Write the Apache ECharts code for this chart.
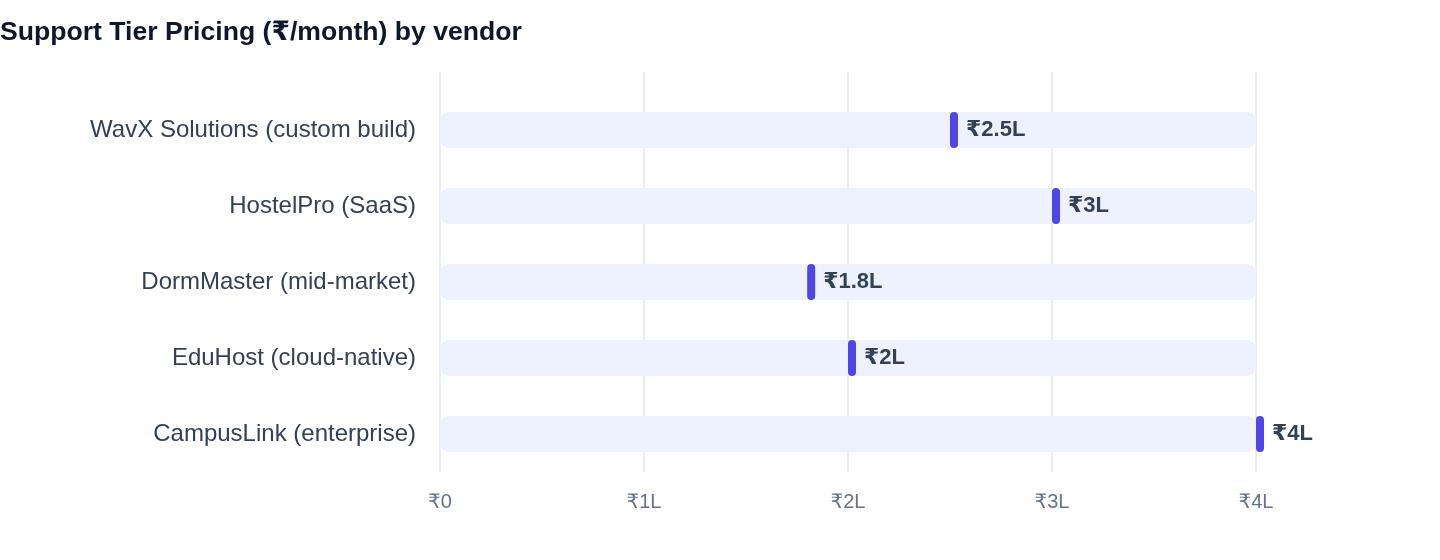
<!DOCTYPE html>
<html><head><meta charset="utf-8">
<script src="https://cdn.jsdelivr.net/npm/echarts@6/dist/echarts.min.js"></script>
<style>html,body{margin:0;padding:0;background:#fff}#c{width:1440px;height:560px}</style>
</head><body><div id="c"></div>
<script>
const vendors = ['WavX Solutions (custom build)','HostelPro (SaaS)','DormMaster (mid-market)','EduHost (cloud-native)','CampusLink (enterprise)'];
const prices = [250000, 300000, 180000, 200000, 400000];
const trackMax = [400000, 400000, 400000, 400000, 400000];

const FONT = '"Liberation Sans", Helvetica, Arial, "DejaVu Sans", sans-serif';
function fmt(v){ return v === 0 ? '₹0' : '₹' + (v/100000) + 'L'; }

const chart = echarts.init(document.getElementById('c'));
chart.setOption({
  animation:false,
  textStyle:{fontFamily:FONT},
  title:{text:'Support Tier Pricing (₹/month) by vendor', left:0, top:19, padding:0,
    textStyle:{fontSize:26.6, fontWeight:'bold', color:'#0f172a', fontFamily:FONT}},
  grid:[
    {left:440, right:184, top:72, bottom:88},
    {left:440, right:184, top:92, bottom:88}
  ],
  xAxis:[
    {gridIndex:0, type:'value', min:0, max:400000, interval:100000,
     axisLine:{show:false}, axisTick:{show:false},
     splitLine:{show:true, lineStyle:{color:'#e2e8f0', width:1.5}},
     axisLabel:{formatter:fmt, color:'#64748b', fontSize:20, margin:20, fontFamily:FONT}},
    {gridIndex:1, type:'value', min:0, max:400000, show:false, splitLine:{show:false}}
  ],
  yAxis:[
    {gridIndex:0, type:'category', data:vendors, show:false},
    {gridIndex:1, type:'category', data:vendors, inverse:true,
     axisLine:{show:false}, axisTick:{show:false},
     axisLabel:{color:'#334155', fontSize:24, margin:24, fontFamily:FONT}}
  ],
  series:[
    {type:'bar', xAxisIndex:1, yAxisIndex:1, data:trackMax, barWidth:36, z:2,
     itemStyle:{color:'#eef1fe', borderRadius:9}, silent:true},
    {type:'custom', xAxisIndex:1, yAxisIndex:1, z:10,
     data: prices.map((p,i)=>[p,i]),
     renderItem:function(params, api){
       const pt = api.coord([api.value(0), api.value(1)]);
       return {type:'group', children:[
         {type:'rect', shape:{x:pt[0], y:pt[1]-18, width:8, height:36, r:[4,4,4,4]}, style:{fill:'#4f46e5'}},
         {type:'text', x:pt[0]+16, y:pt[1], style:{text:fmt(api.value(0)), fill:'#334155',
           font:'bold 22px '+FONT, verticalAlign:'middle'}}
       ]};
     }}
  ]
});
</script></body></html>
